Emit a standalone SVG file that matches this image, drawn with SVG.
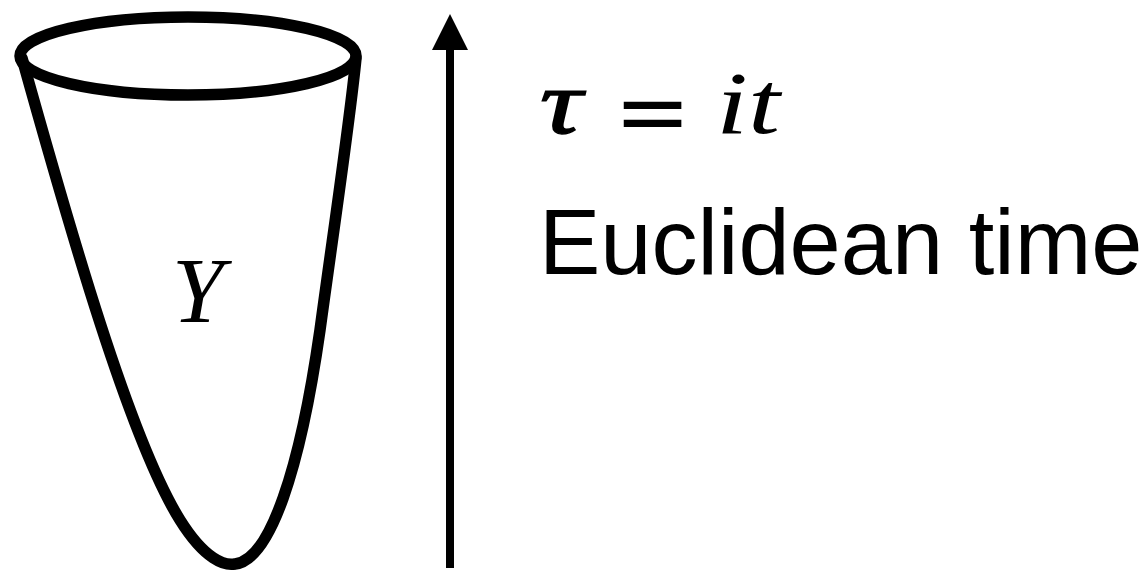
<svg xmlns="http://www.w3.org/2000/svg" width="1146" height="573" viewBox="0 0 1146 573">
<style>
.ln{fill:none;stroke:#000;stroke-width:11.5;stroke-linejoin:round;stroke-linecap:round}
.math{font-family:"Liberation Serif",serif;font-style:italic;fill:#000}
.sans{font-family:"Liberation Sans",sans-serif;fill:#000}
</style>
<g id="cone">
<path class="ln" d="M 22 58 C 70 230, 130 440, 180 520 C 205 560, 225 566, 235 564 C 270 560, 300 470, 320 330 C 335 220, 350 120, 356 58"/>
<ellipse class="ln" cx="188" cy="56" rx="168" ry="39"/>
<text class="math" x="172" y="322" font-size="93">Y</text>
</g>
<g id="connectors">
<line x1="450" y1="568" x2="450" y2="50" stroke="#000" stroke-width="8"/>
<path d="M432,50 L450,14 L468,50 Z" fill="#000"/>
</g>
<g id="label">
<text class="math" x="540" y="133" font-size="90" stroke="#000" stroke-width="1.5" textLength="42" lengthAdjust="spacingAndGlyphs">τ</text>
<text x="614" y="143" font-size="92" font-family="DejaVu Serif,serif" fill="#000">=</text>
<text class="math" x="716" y="133" font-size="88" textLength="64" lengthAdjust="spacingAndGlyphs">it</text>
<text class="sans" x="539" y="274" font-size="92">Euclidean time</text>
</g>
</svg>
